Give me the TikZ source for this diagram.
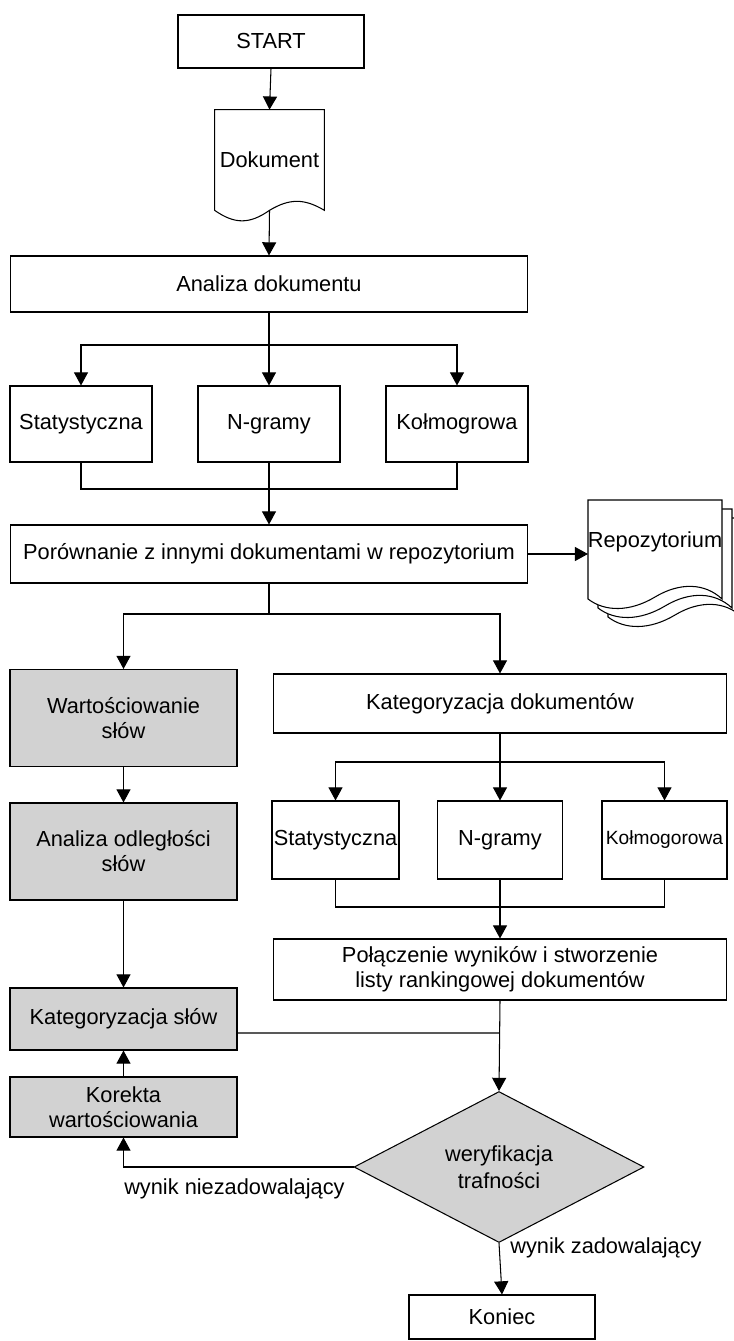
\documentclass[tikz,border=0pt]{standalone}
\usepackage{fontspec}
\setmainfont{Liberation Sans}
\usetikzlibrary{arrows.meta,shapes.geometric,positioning}

\tikzset{
	box/.style={draw, line width=0.6pt, align=center, inner sep=1pt,
		font=\fontsize{12.4}{14.2}\selectfont},
	grey/.style={box, fill=gray!35},
	arr/.style={line width=0.6pt, -{Stealth[inset=0pt,length=7.5pt,width=8pt]}},
	ln/.style={line width=0.6pt},
	lbl/.style={inner sep=0pt, font=\fontsize{12.4}{14.2}\selectfont},
}

\begin{document}
\begin{tikzpicture}[x=0.02cm,y=-0.02cm]
\useasboundingbox (0,0) rectangle (733,1341);

%Start
\node [box, minimum width=3.72cm, minimum height=1.06cm] (start) at (271,41.5) {START};

%Document
\node [lbl, minimum width=2.18cm, minimum height=2cm] (doc) at (269.5,160) {Dokument};
\draw [ln] (doc.south west) -- (doc.north west) -- (doc.north east) -- (doc.south east)
	.. controls +(-20,-12) and +(20,-12) .. (doc.south)
	.. controls +(-20,14) and +(20,14) .. (doc.south west) -- cycle;
\draw [arr] (start.south) -- (doc.north);

%Document analysis
\node [box, minimum width=10.36cm, minimum height=1.12cm] (analiza) at (269,284) {Analiza dokumentu};
\draw [arr] (doc.south) -- (analiza.north);

\node [box, minimum width=2.84cm, minimum height=1.52cm] (stat1) at (81,424) {Statystyczna};
\node [box, minimum width=2.84cm, minimum height=1.52cm] (ngram1) at (269,424) {N-gramy};
\node [box, minimum width=2.84cm, minimum height=1.52cm] (kolm1) at (457,424) {Kołmogrowa};

\coordinate (rozg1) at (269,345);
\draw [ln] (analiza.south) -- (rozg1);
\draw [arr] (rozg1) -| (stat1.north);
\draw [arr] (rozg1) -- (ngram1.north);
\draw [arr] (rozg1) -| (kolm1.north);

%Comparison with the repository
\node [box, minimum width=10.36cm, minimum height=1.16cm] (porown) at (269,554) {Porównanie z innymi dokumentami w repozytorium};

\coordinate (lacz1) at (269,489);
\draw [ln] (stat1.south) |- (lacz1);
\draw [ln] (kolm1.south) |- (lacz1);
\draw [ln] (ngram1.south) -- (lacz1);
\draw [arr] (lacz1) -- (porown.north);

%Repository (stack of documents)
\foreach \d in {20,10,0} {
	\draw [ln, fill=white, shift={(\d,0.9*\d)}] (588,500) -- (722,500) -- (722,599)
		.. controls (705,583) and (680,582) .. (655,597)
		.. controls (630,612) and (605,612) .. (588,599) -- cycle;
}
\node [lbl] (repotxt) at (655,542) {Repozytorium};
\coordinate (repo) at (588,554);
\draw [arr] (porown.east) -- (repo);

%Word evaluation branch
\node [grey, minimum width=4.54cm, minimum height=1.94cm] (wart) at (123.5,718) {Wartościowanie\\słów};
\node [grey, minimum width=4.54cm, minimum height=1.94cm] (odl) at (123.5,851.5) {Analiza odległości\\słów};
\node [grey, minimum width=4.54cm, minimum height=1.24cm] (katslow) at (123.5,1019) {Kategoryzacja słów};
\node [grey, minimum width=4.54cm, minimum height=1.2cm] (korekta) at (123.5,1107) {Korekta\\wartościowania};

%Document categorisation branch
\node [box, minimum width=9.08cm, minimum height=1.18cm] (katdok) at (500,703.5) {Kategoryzacja dokumentów};

\coordinate (rozg2) at (269,614);
\draw [ln] (porown.south) -- (rozg2);
\draw [arr] (rozg2) -| (wart.north);
\draw [arr] (rozg2) -| (katdok.north);

\draw [arr] (wart.south) -- (odl.north);
\draw [arr] (odl.south) -- (katslow.north);
\draw [arr] (korekta.north) -- (katslow.south);

\node [box, minimum width=2.5cm, minimum height=1.56cm] (stat2) at (335.5,840) {Statystyczna};
\node [box, minimum width=2.5cm, minimum height=1.56cm] (ngram2) at (500,840) {N-gramy};
\node [box, minimum width=2.5cm, minimum height=1.56cm, font=\fontsize{10.9}{13}\selectfont] (kolm2) at (664.5,840) {Kołmogorowa};

\coordinate (rozg3) at (500,762);
\draw [ln] (katdok.south) -- (rozg3);
\draw [arr] (rozg3) -| (stat2.north);
\draw [arr] (rozg3) -- (ngram2.north);
\draw [arr] (rozg3) -| (kolm2.north);

\node [box, minimum width=9.08cm, minimum height=1.22cm] (polacz) at (500,969.5) {Połączenie wyników i stworzenie\\listy rankingowej dokumentów};

\coordinate (lacz2) at (500,907);
\draw [ln] (stat2.south) |- (lacz2);
\draw [ln] (kolm2.south) |- (lacz2);
\draw [ln] (ngram2.south) -- (lacz2);
\draw [arr] (lacz2) -- (polacz.north);

%Verification
\node [grey, shape=diamond, minimum width=5.8cm, minimum height=2.22cm, inner sep=0pt,
	font=\fontsize{12.4}{15.5}\selectfont] (weryf) at (499,1167) {weryfikacja\\trafności};

\coordinate (zbieg) at (499,1033);
\draw [ln] ([yshift=-0.28cm]katslow.east) -- (zbieg);
\draw [arr] (polacz.south) -- (weryf.north);

\draw [arr] (weryf.west) -| (korekta.south);
\node [lbl, anchor=north east] (niezad) at (345,1178) {wynik niezadowalający};

%End
\node [box, minimum width=3.72cm, minimum height=0.88cm] (koniec) at (502,1317) {Koniec};
\draw [arr] (weryf.south) -- (koniec.north);
\node [lbl, anchor=west] (zad) at (510,1248) {wynik zadowalający};

\end{tikzpicture}
\end{document}
